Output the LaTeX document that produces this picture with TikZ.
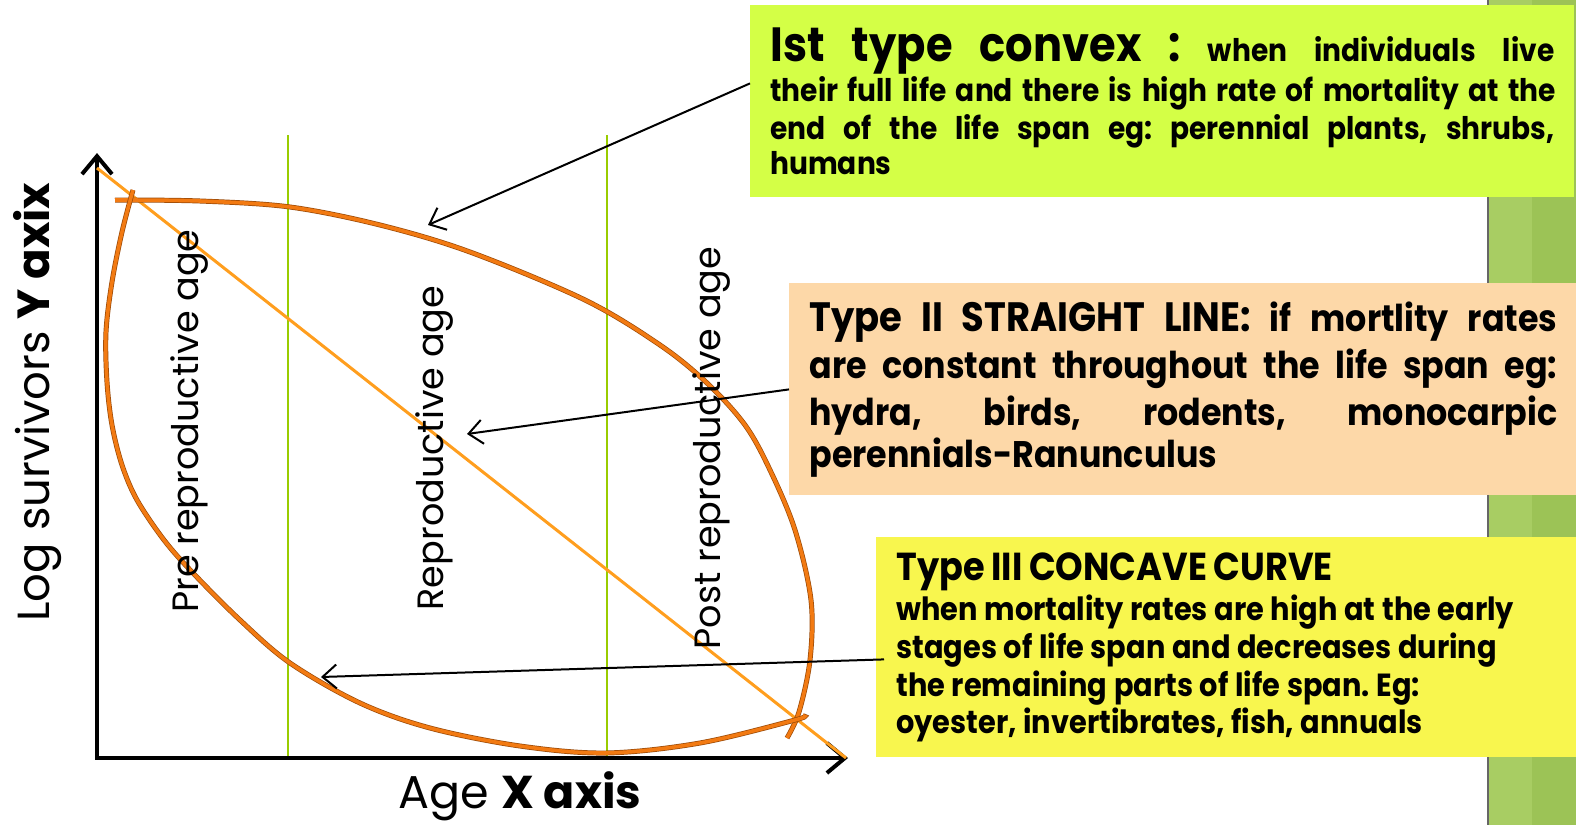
\documentclass[tikz,border=0pt]{standalone}
\usepackage{fontspec}
\setmainfont{Poppins}
\newfontfamily\boxfont[FakeStretch=0.9]{Poppins}
\usetikzlibrary{arrows.meta,positioning}
\definecolor{limebox}{HTML}{D4FF46}
\definecolor{peachbox}{HTML}{FDD8A8}
\definecolor{yellowbox}{HTML}{F8F64E}
\definecolor{stripeA}{HTML}{A8CD63}
\definecolor{stripeB}{HTML}{9CC356}
\definecolor{curveor}{HTML}{F27A12}
\definecolor{curvedk}{HTML}{9A4A08}
\definecolor{lineor}{HTML}{FF9E1E}
\definecolor{agegreen}{HTML}{99CC00}
% one justified line of a box
\newcommand\jline[2]{\mbox{\hbox to #1{\spaceskip=0.3em plus 1fil\relax #2}}}

\begin{document}
\begin{tikzpicture}[x=0.5pt,y=-0.5pt,>={Straight Barb[length=7pt,width=12pt]},
box/.style={anchor=north west,inner xsep=10pt,inner ysep=0pt,align=left,font=\boxfont\bfseries\frenchspacing},
agelbl/.style={rotate=90,font=\fontsize{18.3}{18}\selectfont},
curve/.style={line width=1.8pt,curveor,preaction={draw,curvedk,line width=2.5pt}},
arr/.style={->,line width=1pt}]
\useasboundingbox (0,0) rectangle (1576,825);
% green stripe at the right
\fill[stripeA] (1488,0) rectangle (1532,825);
\fill[stripeB] (1532,0) rectangle (1576,825);
\draw[black!60,line width=1pt] (1488,0) -- (1488,825);
% age zones
\draw[agegreen,line width=1pt] (288,135) -- (288,758);
\draw[agegreen,line width=1pt] (607,135) -- (607,758);
% axes
\coordinate (ytip) at (97,153);
\coordinate (orig) at (97,758);
\coordinate (xtip) at (848,758);
\draw[{Straight Barb[length=9pt,width=15pt]}-{Straight Barb[length=9pt,width=15pt]},line width=2pt] (ytip) -- (orig) -- (xtip);
% type II
\draw[lineor,line width=1.5pt] (97,168) -- (846,758);
% type I and type III
\draw[curve] plot[smooth,tension=0.55] coordinates {(115,200) (200,201) (290,207) (380,225) (470,252) (585,300) (660,345) (707,383) (745,425) (770,470) (795,530) (811,600) (810,660) (799,712) (787,738)};
\draw[curve] plot[smooth,tension=0.55] coordinates {(133,190) (122,232) (112,282) (106,332) (107,382) (112,425) (122,465) (137,500) (164,540) (193,573) (240,620) (290,663) (360,703) (430,728) (520,746) (606,753) (700,743) (795,720) (803,716)};
\coordinate (convex) at (428,225);
\coordinate (straight) at (467,434);
\coordinate (concave) at (321,677);
% labels
\node[agelbl] (pre) at (190,421) {Pre reproductive age};
\node[agelbl] (rep) at (435,448) {Reproductive age};
\node[agelbl] (post) at (712,448) {Post reproductive age};
\node[rotate=90,font=\fontsize{22.5}{22}\selectfont] (ylbl) at (38,402) {Log survivors \textbf{Y axix}};
\node[font=\fontsize{23}{23}\selectfont] (xlbl) at (520,796) {Age \textbf{X axis}};
% boxes
\node[box,fill=limebox,text width=392pt,minimum height=96pt] (ist) at (750,5) {%
\fontsize{15.6}{19}\selectfont
\jline{392pt}{{\fontsize{24}{23}\selectfont Ist type convex :} when individuals live}\\[1pt]
\jline{392pt}{their full life and there is high rate of mortality at the}\\
\jline{392pt}{end of the life span eg: perennial plants, shrubs,}\\[1pt]
humans};
\node[box,fill=peachbox,text width=374pt,minimum height=106pt] (two) at (789,283) {%
\fontsize{18.5}{23.5}\selectfont
\jline{374pt}{{\fontsize{20.5}{20}\selectfont Type II STRAIGHT LINE:} if mortlity rates}\\
\jline{374pt}{are constant throughout the life span eg:}\\
\jline{374pt}{hydra, birds, rodents, monocarpic}\\
perennials-Ranunculus};
\node[box,fill=yellowbox,text width=330pt,minimum height=110pt] (three) at (876,537) {%
\fontsize{16}{19}\selectfont
{\fontsize{19.5}{19}\selectfont Type III CONCAVE CURVE}\\[1pt]
when mortality rates are high at the early\\
stages of life span and decreases during\\
the remaining parts of life span. Eg:\\
oyester, invertibrates, fish, annuals};
% pointers
\draw[arr] ([yshift=9pt]ist.west) -- (convex);
\draw[arr] (two.west) -- (straight);
\draw[arr] ([xshift=4pt,yshift=-6pt]three.west) -- (concave);
\end{tikzpicture}
\end{document}
